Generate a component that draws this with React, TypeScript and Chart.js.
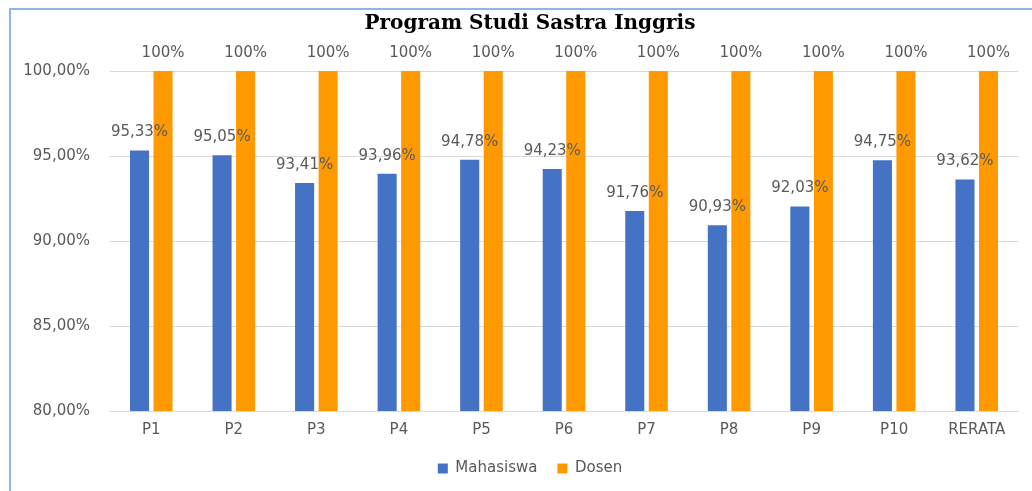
import React, { useEffect, useRef } from "react";
import { Chart, registerables } from "chart.js";

Chart.register(...registerables);

const categories = ["P1", "P2", "P3", "P4", "P5", "P6", "P7", "P8", "P9", "P10", "RERATA"];
const mahasiswa = [95.33, 95.05, 93.41, 93.96, 94.78, 94.23, 91.76, 90.93, 92.03, 94.75, 93.62];
const dosen = [100, 100, 100, 100, 100, 100, 100, 100, 100, 100, 100];
const seriesNames = ["Mahasiswa", "Dosen"];
const titleText = "Program Studi Sastra Inggris";

const SANS = "'DejaVu Sans', sans-serif";
const GRAY = "#595959";

const fmtPct = (v: number) => v.toFixed(2).replace(".", ",") + "%";

const dataLabels = {
  id: "dataLabels",
  afterDatasetsDraw(chart: any) {
    const ctx = chart.ctx;
    ctx.save();
    ctx.font = `15px ${SANS}`;
    ctx.fillStyle = GRAY;
    ctx.textAlign = "center";
    ctx.textBaseline = "middle";
    chart.data.datasets.forEach((ds: any, di: number) => {
      const meta = chart.getDatasetMeta(di);
      meta.data.forEach((bar: any, i: number) => {
        const v = ds.data[i];
        const txt = di === 0 ? fmtPct(v) : `${v}%`;
        ctx.fillText(txt, bar.x, bar.y - 18);
      });
    });
    ctx.restore();
  },
};

export default function App() {
  const ref = useRef<HTMLCanvasElement>(null);
  useEffect(() => {
    if (!ref.current) return;
    const chart = new Chart(ref.current, {
      type: "bar",
      data: {
        labels: categories,
        datasets: [
          {
            label: seriesNames[0],
            data: mahasiswa,
            backgroundColor: "#4472C4",
            categoryPercentage: 0.57,
            barPercentage: 0.81,
          },
          {
            label: seriesNames[1],
            data: dosen,
            backgroundColor: "#FF9900",
            categoryPercentage: 0.57,
            barPercentage: 0.81,
          },
        ],
      },
      options: {
        animation: false,
        responsive: false,
        devicePixelRatio: 1,
        layout: { padding: { left: 24, right: 0, top: 0, bottom: 5 } },
        plugins: {
          title: {
            display: true,
            text: titleText,
            color: "#000000",
            font: { family: "'DejaVu Serif', serif", size: 20, weight: "bold" },
            padding: { top: 12, bottom: 35 },
          },
          legend: {
            position: "bottom",
            labels: {
              boxWidth: 10,
              boxHeight: 10,
              padding: 20,
              color: GRAY,
              font: { family: SANS, size: 15 },
            },
          },
          tooltip: { enabled: false },
        },
        scales: {
          x: {
            grid: { display: false, drawTicks: false },
            border: { display: true, color: "#d9d9d9" },
            ticks: { color: GRAY, font: { family: SANS, size: 15 }, padding: 10 },
            afterFit: (s: any) => {
              s.height = 30;
            },
          },
          y: {
            min: 80,
            max: 100,
            grid: { color: "#d9d9d9", drawTicks: false },
            border: { display: false },
            ticks: {
              stepSize: 5,
              color: GRAY,
              font: { family: SANS, size: 15 },
              padding: 20,
              callback: (v: any) => fmtPct(Number(v)),
            },
            afterFit: (s: any) => {
              s.width = 86;
            },
          },
          yRightSpace: {
            position: "right",
            display: true,
            min: 80,
            max: 100,
            grid: { display: false, drawTicks: false },
            border: { display: false },
            ticks: { display: false },
            afterFit: (s: any) => {
              s.width = 18;
            },
          },
        },
      },
      plugins: [dataLabels],
    });
    return () => chart.destroy();
  }, []);

  return (
    <div style={{ position: "absolute", left: 0, top: 0, width: 1032, height: 491, background: "#fff", overflow: "hidden" }}>
      <canvas ref={ref} width={1036} height={491} style={{ display: "block", width: 1036, height: 491 }} />
      <div style={{ position: "absolute", left: 9, top: 8, width: 2, height: 483, background: "#8db6e4" }} />
      <div style={{ position: "absolute", left: 9, top: 8, width: 1023, height: 2, background: "#8db6e4" }} />
    </div>
  );
}
